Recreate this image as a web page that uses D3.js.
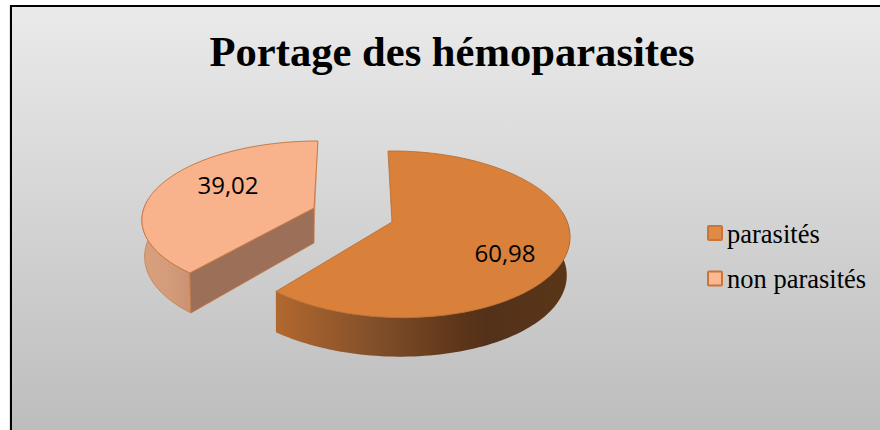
<!DOCTYPE html>
<html><head><meta charset="utf-8">
<script src="https://cdn.jsdelivr.net/npm/d3@7/dist/d3.min.js"></script>
<style>html,body{margin:0;padding:0;background:#fff;overflow:hidden}svg{display:block}</style>
</head><body><svg id="c" width="880" height="430"></svg>
<script>
const chartTitle = "Portage des hémoparasites";
const categories = ["parasités", "non parasités"];
const values = [60.98, 39.02];
const valueLabels = ["60,98", "39,02"];
const topColors = ["#d9803a", "#f8b28c"];
const legendFill = ["#e08a45", "#fdb892"];

const W = 880, H = 430;
const svg = d3.select("#c");
const defs = svg.append("defs");

const bg = defs.append("linearGradient").attr("id","bg").attr("x1",0).attr("y1",0).attr("x2",0).attr("y2",1);
bg.append("stop").attr("offset",0).attr("stop-color","#eaeaea");
bg.append("stop").attr("offset",1).attr("stop-color","#bdbdbd");

const g1 = defs.append("linearGradient").attr("id","wallO").attr("gradientUnits","userSpaceOnUse")
  .attr("x1",274).attr("x2",570).attr("y1",0).attr("y2",0);
[[0,"#b3692e"],[0.33,"#83502a"],[0.62,"#5e3619"],[0.72,"#53311a"],[1,"#5a3618"]].forEach(s=>g1.append("stop").attr("offset",s[0]).attr("stop-color",s[1]));
const g2 = defs.append("linearGradient").attr("id","wallL").attr("gradientUnits","userSpaceOnUse")
  .attr("x1",145).attr("x2",191).attr("y1",0).attr("y2",0);
[[0,"#d89f7d"],[0.5,"#d49c7a"],[1,"#c99272"]].forEach(s=>g2.append("stop").attr("offset",s[0]).attr("stop-color",s[1]));

// background and frame
svg.append("rect").attr("x",11).attr("y",6).attr("width",W-11).attr("height",H-6).attr("fill","url(#bg)");
svg.append("rect").attr("x",9).attr("y",6).attr("width",1).attr("height",H).attr("fill","#e4e4e4");
svg.append("rect").attr("x",10).attr("y",5).attr("width",2).attr("height",H-5).attr("fill","#000");
svg.append("rect").attr("x",10).attr("y",5).attr("width",W-10).attr("height",2).attr("fill","#000");

svg.append("text").attr("x",452).attr("y",66).attr("text-anchor","middle")
  .attr("font-family","Liberation Serif").attr("font-weight","bold").attr("font-size",42.6)
  .attr("fill","#000").text(chartTitle);

// perspective maps from the unit disc to the page
const project = p => (u,v) => {
  const d = 1 - p.k*v - p.m*u;
  return [p.x + (p.b*u + p.c*v)/d, p.y + p.a*v/d];
};
const maps = [
  { top: project({x:392,y:222,a:81.5,b:170.5,c:4.6,k:.1477,m:.0276}),
    bot: project({x:394,y:259,a:83,b:172,c:8,k:.15,m:-.015}) },
  { top: project({x:314,y:208,a:75.7,b:170,c:-4.5,k:.13,m:0}),
    bot: project({x:314,y:243,a:80.9,b:167,c:-4.5,k:.14,m:0}) }
];

const arcs = d3.pie().sort(null).value(d=>d)(values);
const line = d3.line();
const rim = (map,a0,a1,n=90) => d3.range(n+1).map(i=>{
  const t = a0+(a1-a0)*i/n;
  return map(Math.sin(t), -Math.cos(t));
});

// non parasités
{
  const a = arcs[1], m = maps[1], c = "#c77a45";
  svg.append("path").attr("d",line([m.top(0,-1),m.top(0,0),m.bot(0,0)])+"Z").attr("fill","#d99e7a");
  const startA = a.startAngle, endVis = 3*Math.PI/2 + .12;
  svg.append("path").attr("d",line([...rim(m.top,startA,endVis),...rim(m.bot,startA,endVis).reverse()])+"Z")
    .attr("fill","url(#wallL)").attr("stroke",c).attr("stroke-width",.8);
  svg.append("path").attr("d",line([m.top(0,0),rim(m.top,startA,startA,1)[0],rim(m.bot,startA,startA,1)[0],m.bot(0,0)])+"Z")
    .attr("fill","#9c7058").attr("stroke",c).attr("stroke-width",.8);
  svg.append("path").attr("d",line([m.top(0,0),...rim(m.top,a.startAngle,a.endAngle)])+"Z")
    .attr("fill",topColors[1]).attr("stroke",c).attr("stroke-width",1).attr("stroke-linejoin","round");
}
// parasités
{
  const a = arcs[0], m = maps[0], c = "#b8692c";
  svg.append("path").attr("d",line([m.top(0,-1),m.top(0,0),m.bot(0,0)])+"Z").attr("fill","#4f2f16");
  const from = Math.PI/2 - .12, to = a.endAngle;
  svg.append("path").attr("d",line([...rim(m.top,from,to),...rim(m.bot,from,to).reverse()])+"Z")
    .attr("fill","url(#wallO)");
  svg.append("path").attr("d",line([m.top(0,0),...rim(m.top,a.startAngle,a.endAngle)])+"Z")
    .attr("fill",topColors[0]).attr("stroke",c).attr("stroke-width",.8).attr("stroke-linejoin","round");
}

// value labels
const labelPos = [[505,262],[228,194]];
valueLabels.forEach((t,i)=>svg.append("text").attr("x",labelPos[i][0]).attr("y",labelPos[i][1])
  .attr("text-anchor","middle").attr("font-family","Open Sans").attr("font-size",24).attr("fill","#000").text(t));

// legend
const legY = d3.scalePoint().domain(categories).range([233,278.5]);
categories.forEach((t,i)=>{
  const y = legY(t);
  svg.append("rect").attr("x",708).attr("y",y-7).attr("width",14).attr("height",14).attr("rx",1)
    .attr("fill",legendFill[i]).attr("stroke","#c8753a").attr("stroke-width",2);
  svg.append("text").attr("x",727).attr("y",y+9.5).attr("font-family","Liberation Serif")
    .attr("font-size",26.5).attr("fill","#000").text(t);
});
</script></body></html>
